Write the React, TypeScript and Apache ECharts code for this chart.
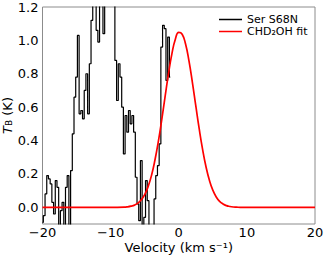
import React, { useEffect, useRef } from "react";
import * as echarts from "echarts";

// Observed spectrum (Ser S68N): velocity channels (km/s) and brightness temperature (K)
const specVel: number[] = [
  -20.0, -19.75, -19.5, -19.25, -19.0, -18.75, -18.5, -18.25, -18.0, -17.75,
  -17.5, -17.25, -17.0, -16.75, -16.5, -16.25, -16.0, -15.75, -15.5, -15.25,
  -15.0, -14.75, -14.5, -14.25, -14.0, -13.75, -13.5, -13.25, -13.0, -12.75,
  -12.5, -12.25, -12.0, -11.75, -11.5, -11.25, -11.0, -10.75, -10.5, -10.25,
  -10.0, -9.75, -9.5, -9.25, -9.0, -8.75, -8.5, -8.25, -8.0, -7.75,
  -7.5, -7.25, -7.0, -6.75, -6.5, -6.25, -6.0, -5.75, -5.5, -5.25,
  -5.0, -4.75, -4.5, -4.25, -4.0, -3.75, -3.5, -3.25, -3.0, -2.75,
  -2.5, -2.25, -2.0, -1.75, -1.5, -1.25,
];
const specT: number[] = [
  -0.09, -0.05, 0.08, 0.19, 0.17, 0.14, 0.03, -0.04, 0.16, 0.12,
  -0.12, -0.02, 0.03, -0.12, 0.12, 0.19, -0.12, 0.22, 0.44, 0.66,
  0.78, 1.03, 0.56, 0.58, 0.53, 0.7, 0.8, 0.56, 0.86, 1.12,
  1.35, 1.25, 1.06, 0.99, 1.3, 1.28, 1.04, 1.3, 1.4, 1.3,
  1.35, 1.45, 1.3, 0.88, 0.64, 0.86, 0.78, 0.6, 0.32, 0.55,
  0.45, 0.58, 0.5, 0.55, 0.45, 0.18, 0.02, -0.08, 0.28, -0.12,
  -0.06, 0.16, 0.04, -0.12, -0.12, -0.12, 0.05, 0.19, 0.25, 0.38,
  0.96, 1.09, 1.07, 0.76, 1.02, 0.78,
];

const fitVel: number[] = [
  -20, -15, -10, -8, -7.5, -7, -6.5, -6, -5.5, -5, -4.5, -4, -3.5, -3, -2.5, -2,
  -1.5, -1, -0.5, 0, 0.5, 1, 1.5, 2, 2.5, 3, 3.5, 4, 4.5, 5, 5.5, 6, 6.5, 7,
  7.5, 8, 8.5, 9, 10, 15, 20,
];
const fitT: number[] = [
  0, 0, 0, 0.001, 0.003, 0.007, 0.013, 0.025, 0.045, 0.076, 0.124, 0.191, 0.282,
  0.394, 0.524, 0.665, 0.802, 0.921, 1.007, 1.048, 1.037, 0.978, 0.877, 0.749,
  0.609, 0.471, 0.347, 0.243, 0.162, 0.103, 0.062, 0.036, 0.02, 0.01, 0.005,
  0.002, 0.001, 0, 0, 0, 0,
];

const xTicks: number[] = [-20, -10, 0, 10, 20];
const yTicks: number[] = [0, 0.2, 0.4, 0.6, 0.8, 1.0, 1.2];

const seriesNames = ["Ser S68N", "CHD₂OH fit"];

const FONT = "DejaVu Sans";

export default function App() {
  const ref = useRef<HTMLDivElement>(null);
  useEffect(() => {
    if (!ref.current) return;
    const chart = echarts.init(ref.current, undefined, { renderer: "svg" });
    chart.setOption({
      animation: false,
      backgroundColor: "#ffffff",
      grid: {
        left: 42.5,
        right: 12,
        top: 7,
        bottom: 37,
        containLabel: false,
        outerBoundsMode: "none",
        show: true,
        borderColor: "#8c8c8c",
        borderWidth: 1,
      },
      legend: {
        data: seriesNames,
        orient: "vertical",
        left: 214,
        top: 9,
        itemWidth: 23,
        itemHeight: 1.5,
        itemGap: 1,
        icon: "rect",
        textStyle: { fontFamily: FONT, fontSize: 11, color: "#000" },
      },
      xAxis: {
        type: "value",
        min: -20,
        max: 20,
        interval: 10,
        name: "Velocity (km s⁻¹)",
        nameLocation: "middle",
        nameGap: 17,
        nameMoveOverlap: false,
        nameTextStyle: { fontFamily: FONT, fontSize: 13, color: "#000" },
        axisLine: { show: false },
        axisTick: { show: false },
        splitLine: { show: false },
        axisLabel: {
          customValues: xTicks,
          fontFamily: FONT,
          fontSize: 13,
          color: "#000",
          margin: 2,
          formatter: (v: number) => String(v).replace("-", "−"),
        },
      },
      yAxis: {
        type: "value",
        min: -0.1,
        max: 1.2,
        name: "{i|T}{s|B} (K)",
        nameLocation: "middle",
        nameGap: 29,
        nameMoveOverlap: false,
        nameRotate: 90,
        nameTextStyle: {
          fontFamily: FONT,
          fontSize: 13,
          color: "#000",
          rich: {
            i: { fontFamily: FONT, fontSize: 13, fontStyle: "italic", color: "#000" },
            s: { fontFamily: FONT, fontSize: 9, color: "#000", verticalAlign: "bottom", padding: [4, 0, 0, 0] },
          },
        },
        axisLine: { show: false },
        axisTick: { show: false },
        splitLine: { show: false },
        axisLabel: {
          customValues: yTicks,
          fontFamily: FONT,
          fontSize: 13,
          color: "#000",
          margin: 4,
          formatter: (v: number) => v.toFixed(1),
        },
      },
      series: [
        {
          name: seriesNames[0],
          type: "line",
          step: "middle",
          data: specVel.map((v, i) => [v, specT[i]]),
          showSymbol: false,
          symbol: "none",
          clip: true,
          lineStyle: { color: "#000000", width: 1.2 },
          itemStyle: { color: "#000000" },
        },
        {
          name: seriesNames[1],
          type: "line",
          smooth: true,
          data: fitVel.map((v, i) => [v, fitT[i]]),
          showSymbol: false,
          symbol: "none",
          clip: true,
          lineStyle: { color: "#ff0000", width: 1.7 },
          itemStyle: { color: "#ff0000" },
        },
      ],
    });
    return () => chart.dispose();
  }, []);
  return (
    <div
      ref={ref}
      style={{ position: "fixed", left: 0, top: 0, width: 327, height: 261 }}
    />
  );
}
